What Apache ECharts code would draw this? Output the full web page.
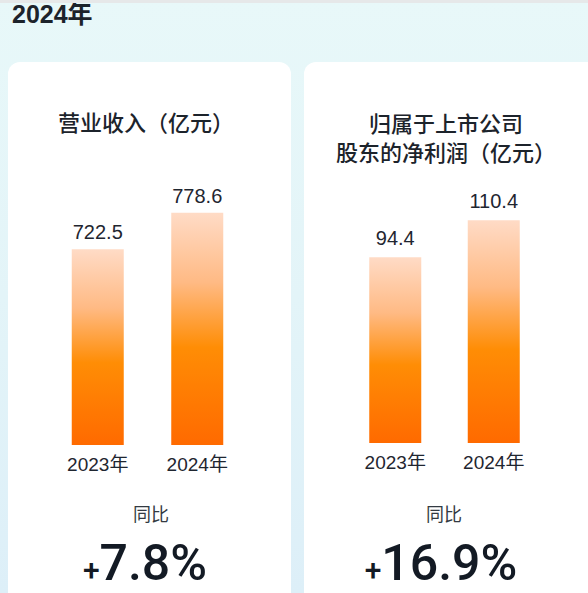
<!DOCTYPE html>
<html>
<head>
<meta charset="utf-8">
<script src="https://cdn.jsdelivr.net/npm/echarts@6/dist/echarts.min.js"></script>
<style>
	html, body { margin: 0; padding: 0; }
	body {
		width: 588px; height: 593px; overflow: hidden;
		background: linear-gradient(180deg, #e8f8f9 0%, #e3f4f8 50%, #ddeff8 100%);
	}
	#topbar { position: absolute; left: 0; top: 0; width: 588px; height: 3px; background: #e6e8e9; }
	#main { position: absolute; left: 0; top: 0; width: 588px; height: 593px; }
</style>
</head>
<body>
<div id="main"></div>
<div id="topbar"></div>
<script>
	var years = ['2023年', '2024年'];
	var revenue = [722.5, 778.6];
	var netProfit = [94.4, 110.4];
	var yoyLabel = '同比';
	var yoyValues = ['7.8%', '16.9%'];
	var headerText = '2024年';
	var titles = ['营业收入（亿元）', '归属于上市公司\n股东的净利润（亿元）'];

	var fontCJK = '"Noto Sans CJK SC", "Noto Sans", sans-serif';
	var fontNum = '"Liberation Sans", Arial, "Noto Sans CJK SC", sans-serif';
	var fontBig = 'Roboto, "Liberation Sans", sans-serif';

	var barColor = new echarts.graphic.LinearGradient(0, 0, 0, 1, [
		{ offset: 0, color: '#ffdbc6' },
		{ offset: 0.3, color: '#ffba84' },
		{ offset: 0.58, color: '#ff8d05' },
		{ offset: 1, color: '#ff6a00' }
	]);

	function barSeries(idx, data, dist) {
		return {
			type: 'bar',
			xAxisIndex: idx,
			yAxisIndex: idx,
			data: data,
			barWidth: 52,
			itemStyle: { color: barColor },
			label: {
				show: true,
				position: 'top',
				distance: dist,
				color: '#1f2630',
				fontSize: 20,
				fontFamily: fontNum
			},
			silent: true
		};
	}

	function xAxis(idx) {
		return {
			gridIndex: idx,
			type: 'category',
			data: years,
			axisLine: { show: false },
			axisTick: { show: false },
			axisLabel: { color: '#1f2630', fontSize: 19, margin: 10, fontFamily: fontNum }
		};
	}

	function yAxis(idx, min, max) {
		return {
			gridIndex: idx,
			type: 'value',
			min: min,
			max: max,
			show: false,
			splitLine: { show: false }
		};
	}

	function yoyText(cx, val) {
		return {
			type: 'text',
			x: cx, y: 588,
			style: {
				text: '{p|+}{n|' + val + '}',
				align: 'center',
				verticalAlign: 'bottom',
				rich: {
					p: { fontSize: 30, fill: '#131a24', fontFamily: fontBig, fontWeight: 500, verticalAlign: 'bottom', padding: [0, 0, 4, 0] },
					n: { fontSize: 50, fill: '#131a24', fontFamily: fontBig, fontWeight: 500, verticalAlign: 'bottom' }
				}
			}
		};
	}

	var chart = echarts.init(document.getElementById('main'), null, { renderer: 'svg' });
	chart.setOption({
		backgroundColor: 'transparent',
		animation: false,
		graphic: [
			{ type: 'rect', z: -10, shape: { x: 8, y: 62, width: 283, height: 560, r: 12 }, style: { fill: '#ffffff' } },
			{ type: 'rect', z: -10, shape: { x: 304, y: 62, width: 296, height: 560, r: 12 }, style: { fill: '#ffffff' } },
			{ type: 'text', x: 12, y: 26, style: { text: headerText, fontSize: 25, fontWeight: 'bold', fill: '#1c232b', fontFamily: fontNum, verticalAlign: 'bottom' } },
			{ type: 'text', x: 146, y: 121, style: { text: titles[0], fontSize: 22, fontWeight: 500, fill: '#1c232b', fontFamily: fontCJK, align: 'center', verticalAlign: 'middle' } },
			{ type: 'text', x: 446, y: 136, style: { text: titles[1], fontSize: 22, lineHeight: 29, fontWeight: 500, fill: '#1c232b', fontFamily: fontCJK, align: 'center', verticalAlign: 'middle' } },
			{ type: 'text', x: 151, y: 513, style: { text: yoyLabel, fontSize: 18, fill: '#333a42', fontFamily: fontCJK, align: 'center', verticalAlign: 'middle' } },
			{ type: 'text', x: 444, y: 513, style: { text: yoyLabel, fontSize: 18, fill: '#333a42', fontFamily: fontCJK, align: 'center', verticalAlign: 'middle' } },
			yoyText(145, yoyValues[0]),
			yoyText(441, yoyValues[1])
		],
		grid: [
			{ left: 48, width: 199, top: 199, bottom: 148 },
			{ left: 346, width: 197, top: 198, bottom: 150 }
		],
		xAxis: [xAxis(0), xAxis(1)],
		yAxis: [yAxis(0, 420, 800), yAxis(1, 14, 120)],
		series: [barSeries(0, revenue, 7), barSeries(1, netProfit, 9)]
	});
</script>
</body>
</html>
